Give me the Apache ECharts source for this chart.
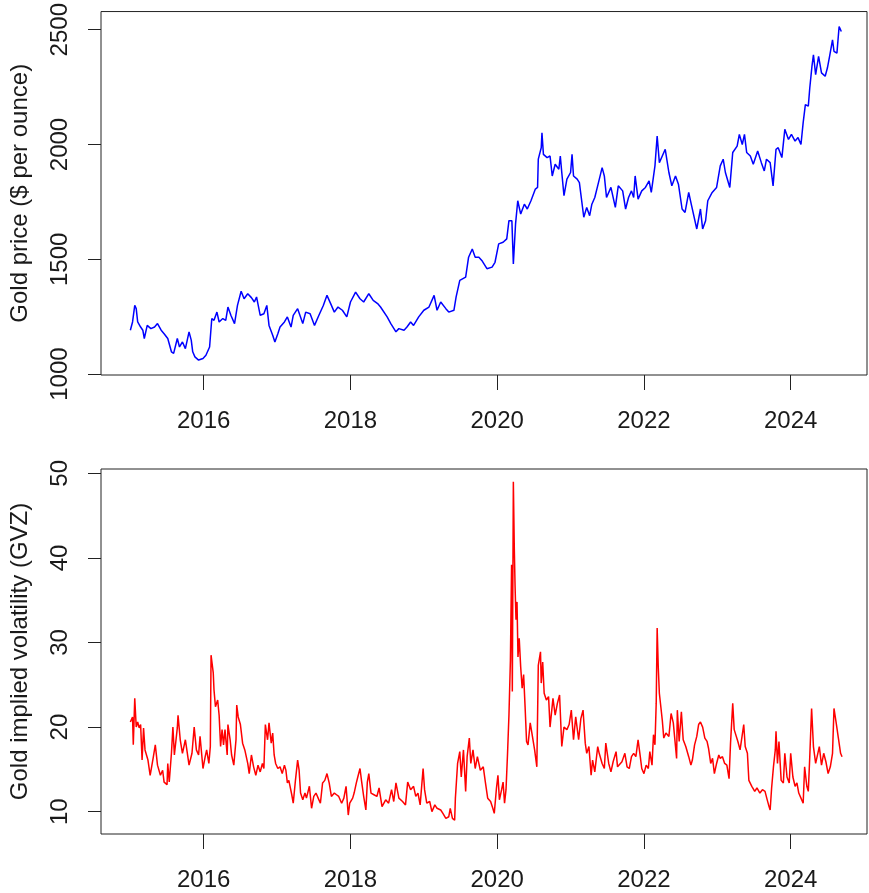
<!DOCTYPE html>
<html><head><meta charset="utf-8">
<script src="https://cdn.jsdelivr.net/npm/echarts@6/dist/echarts.min.js"></script>
<style>html,body{margin:0;padding:0;background:#fff}#c{width:869px;height:893px}</style>
</head><body><div id="c"></div>
<script>
const goldYear = [2015.00,2015.03,2015.06,2015.08,2015.10,2015.14,2015.17,2015.19,2015.23,2015.28,2015.33,2015.37,2015.42,2015.46,2015.51,2015.56,2015.59,2015.64,2015.67,2015.71,2015.75,2015.80,2015.83,2015.85,2015.88,2015.93,2015.99,2016.03,2016.08,2016.11,2016.14,2016.18,2016.21,2016.26,2016.30,2016.33,2016.37,2016.42,2016.46,2016.51,2016.55,2016.60,2016.65,2016.69,2016.72,2016.77,2016.82,2016.86,2016.89,2016.94,2016.97,2017.01,2017.04,2017.10,2017.14,2017.19,2017.22,2017.28,2017.35,2017.39,2017.45,2017.51,2017.57,2017.63,2017.68,2017.73,2017.78,2017.83,2017.89,2017.95,2018.00,2018.07,2018.13,2018.18,2018.25,2018.31,2018.37,2018.41,2018.50,2018.55,2018.62,2018.66,2018.73,2018.77,2018.82,2018.86,2018.93,2019.00,2019.07,2019.14,2019.18,2019.23,2019.30,2019.34,2019.41,2019.44,2019.49,2019.57,2019.61,2019.66,2019.70,2019.75,2019.79,2019.86,2019.93,2019.97,2020.02,2020.08,2020.13,2020.16,2020.20,2020.22,2020.25,2020.28,2020.32,2020.37,2020.41,2020.46,2020.52,2020.55,2020.56,2020.60,2020.61,2020.63,2020.68,2020.72,2020.75,2020.79,2020.84,2020.86,2020.88,2020.91,2020.95,2021.00,2021.02,2021.04,2021.09,2021.12,2021.18,2021.22,2021.26,2021.29,2021.33,2021.38,2021.43,2021.46,2021.49,2021.55,2021.61,2021.65,2021.71,2021.75,2021.79,2021.83,2021.86,2021.88,2021.92,2021.97,2022.02,2022.07,2022.10,2022.15,2022.18,2022.21,2022.25,2022.29,2022.34,2022.38,2022.43,2022.47,2022.52,2022.56,2022.61,2022.65,2022.72,2022.77,2022.80,2022.84,2022.87,2022.93,2022.99,2023.04,2023.08,2023.11,2023.17,2023.21,2023.27,2023.30,2023.34,2023.37,2023.40,2023.45,2023.49,2023.55,2023.60,2023.64,2023.67,2023.72,2023.76,2023.80,2023.83,2023.88,2023.92,2023.97,2024.01,2024.06,2024.10,2024.14,2024.17,2024.20,2024.24,2024.26,2024.29,2024.31,2024.34,2024.38,2024.42,2024.47,2024.50,2024.53,2024.57,2024.59,2024.63,2024.66,2024.69];
const goldPrice = [1191,1227,1299,1285,1227,1205,1191,1155,1212,1198,1205,1220,1191,1176,1155,1097,1090,1155,1118,1140,1111,1184,1148,1097,1075,1061,1068,1082,1118,1242,1234,1270,1227,1242,1234,1292,1256,1220,1299,1361,1328,1350,1333,1314,1336,1256,1263,1299,1212,1169,1140,1176,1205,1227,1249,1205,1256,1285,1220,1270,1263,1212,1256,1299,1343,1307,1270,1292,1278,1249,1314,1357,1328,1314,1350,1321,1307,1292,1249,1220,1184,1198,1191,1205,1227,1212,1249,1278,1292,1343,1278,1314,1285,1270,1278,1336,1408,1422,1509,1545,1509,1509,1495,1459,1466,1487,1567,1574,1589,1668,1668,1480,1654,1755,1697,1740,1719,1755,1806,1813,1936,1986,2051,1957,1943,1950,1863,1914,1892,1950,1878,1777,1849,1878,1957,1863,1849,1834,1683,1726,1690,1740,1769,1834,1899,1863,1769,1813,1726,1820,1798,1719,1769,1798,1769,1863,1762,1798,1813,1842,1791,1907,2037,1921,1950,1979,1878,1820,1863,1827,1719,1704,1791,1733,1632,1719,1632,1668,1755,1791,1813,1907,1936,1878,1813,1965,1993,2044,2000,2044,1965,1950,1914,1972,1921,1885,1936,1921,1820,1979,1986,1943,2066,2022,2044,2015,2030,2000,2095,2174,2167,2246,2341,2391,2304,2384,2312,2297,2333,2384,2456,2406,2398,2514,2492];

const gvzYear = [2015.00,2015.03,2015.04,2015.06,2015.08,2015.10,2015.12,2015.14,2015.16,2015.18,2015.20,2015.24,2015.27,2015.31,2015.34,2015.37,2015.41,2015.44,2015.46,2015.50,2015.51,2015.53,2015.56,2015.58,2015.60,2015.64,2015.65,2015.68,2015.71,2015.75,2015.77,2015.80,2015.84,2015.87,2015.90,2015.93,2015.95,2015.99,2016.02,2016.04,2016.07,2016.09,2016.10,2016.13,2016.14,2016.16,2016.19,2016.21,2016.23,2016.25,2016.27,2016.29,2016.32,2016.33,2016.36,2016.38,2016.41,2016.44,2016.45,2016.47,2016.50,2016.53,2016.56,2016.60,2016.62,2016.65,2016.68,2016.71,2016.74,2016.77,2016.80,2016.82,2016.84,2016.87,2016.89,2016.92,2016.94,2016.96,2016.98,2017.01,2017.04,2017.07,2017.10,2017.12,2017.14,2017.16,2017.20,2017.22,2017.25,2017.28,2017.30,2017.32,2017.35,2017.38,2017.40,2017.44,2017.47,2017.50,2017.53,2017.56,2017.59,2017.62,2017.65,2017.68,2017.71,2017.74,2017.78,2017.81,2017.84,2017.88,2017.91,2017.94,2017.97,2017.99,2018.03,2018.05,2018.08,2018.10,2018.13,2018.15,2018.18,2018.21,2018.23,2018.25,2018.28,2018.32,2018.36,2018.39,2018.43,2018.48,2018.52,2018.56,2018.59,2018.62,2018.66,2018.71,2018.75,2018.78,2018.82,2018.86,2018.89,2018.92,2018.95,2018.99,2019.01,2019.04,2019.08,2019.11,2019.15,2019.18,2019.23,2019.26,2019.30,2019.34,2019.36,2019.39,2019.42,2019.43,2019.46,2019.49,2019.51,2019.54,2019.57,2019.59,2019.62,2019.64,2019.67,2019.70,2019.73,2019.77,2019.81,2019.84,2019.87,2019.91,2019.94,2019.96,2019.99,2020.01,2020.03,2020.06,2020.08,2020.10,2020.12,2020.14,2020.16,2020.18,2020.196,2020.206,2020.22,2020.233,2020.243,2020.256,2020.27,2020.283,2020.30,2020.32,2020.34,2020.36,2020.38,2020.40,2020.42,2020.45,2020.48,2020.51,2020.54,2020.56,2020.59,2020.60,2020.62,2020.64,2020.67,2020.70,2020.72,2020.76,2020.79,2020.82,2020.85,2020.88,2020.91,2020.95,2020.98,2021.01,2021.04,2021.07,2021.11,2021.14,2021.17,2021.20,2021.22,2021.25,2021.28,2021.30,2021.33,2021.37,2021.39,2021.43,2021.46,2021.48,2021.52,2021.55,2021.58,2021.62,2021.64,2021.70,2021.74,2021.77,2021.80,2021.83,2021.86,2021.89,2021.92,2021.95,2021.97,2022.00,2022.03,2022.06,2022.08,2022.11,2022.13,2022.15,2022.167,2022.18,2022.195,2022.21,2022.23,2022.25,2022.27,2022.30,2022.34,2022.37,2022.40,2022.43,2022.445,2022.455,2022.48,2022.51,2022.535,2022.57,2022.61,2022.64,2022.66,2022.69,2022.72,2022.745,2022.77,2022.80,2022.83,2022.86,2022.88,2022.91,2022.935,2022.96,2022.99,2023.02,2023.04,2023.07,2023.10,2023.13,2023.16,2023.18,2023.21,2023.23,2023.25,2023.28,2023.31,2023.33,2023.36,2023.38,2023.41,2023.43,2023.47,2023.51,2023.54,2023.58,2023.615,2023.65,2023.68,2023.705,2023.72,2023.74,2023.765,2023.79,2023.80,2023.82,2023.84,2023.87,2023.90,2023.92,2023.95,2023.98,2024.00,2024.03,2024.06,2024.085,2024.11,2024.14,2024.17,2024.19,2024.22,2024.24,2024.26,2024.285,2024.31,2024.34,2024.37,2024.39,2024.42,2024.45,2024.48,2024.51,2024.54,2024.57,2024.59,2024.62,2024.65,2024.68,2024.70];
const gvzValue = [20.6,21.2,17.9,23.4,20.0,20.6,19.9,20.3,16.1,19.9,17.3,16.1,14.3,16.3,17.9,15.5,14.3,14.9,13.5,13.2,15.7,13.5,16.9,20.0,16.7,19.9,21.4,18.5,16.9,18.5,17.3,15.5,16.9,20.0,17.3,16.7,18.9,15.1,16.5,17.3,15.7,17.7,28.5,26.4,24.4,22.4,23.2,21.4,17.7,19.7,17.9,19.7,16.7,20.3,18.5,16.7,15.5,18.5,22.6,21.2,20.3,18.1,17.3,15.7,14.5,16.7,15.3,14.3,15.5,14.7,15.7,15.1,20.3,18.5,20.5,18.1,19.3,16.7,15.7,15.1,15.3,14.5,15.5,14.9,13.4,13.7,12.0,11.0,13.7,16.1,14.9,12.2,11.4,12.2,11.6,13.0,10.4,11.8,12.2,11.6,11.0,13.4,13.7,14.5,13.4,11.8,12.2,12.0,11.8,11.0,11.6,13.0,9.6,11.0,11.6,12.2,13.4,14.1,15.1,13.7,11.8,10.2,13.5,14.5,12.2,12.0,11.8,12.8,10.6,11.4,11.0,12.6,11.2,13.4,11.6,11.2,10.8,13.5,12.6,13.0,11.8,12.2,10.8,15.1,12.6,11.0,11.2,10.0,10.8,10.4,10.2,9.8,9.2,9.4,10.4,9.2,9.0,11.6,15.7,17.1,14.1,17.3,12.4,16.5,18.7,15.7,17.3,15.1,16.5,14.9,15.3,13.4,11.6,11.2,10.4,9.8,12.8,14.3,11.4,12.6,13.5,11.0,12.6,16.7,21.4,27.9,39.2,24.2,49.0,41.1,36.8,32.7,34.8,28.3,30.5,27.1,24.6,26.2,22.4,18.3,17.9,20.5,18.9,17.3,15.3,27.3,28.9,25.2,27.7,24.0,23.2,23.6,20.0,23.4,21.4,22.8,23.8,17.7,20.0,19.7,20.3,22.0,18.5,21.2,18.5,21.0,22.0,18.1,16.9,17.7,14.3,16.1,14.7,17.7,16.9,15.7,15.1,18.1,15.7,14.7,15.9,17.1,15.3,15.9,16.9,15.3,15.1,16.5,16.9,16.5,18.5,16.5,15.1,14.5,15.5,15.1,17.1,15.5,19.1,17.9,22.8,31.7,27.1,24.0,22.4,20.8,18.7,19.3,18.9,21.6,20.5,17.7,16.3,22.0,18.3,21.8,18.5,17.7,16.5,15.5,16.1,17.9,18.9,20.3,20.6,20.0,18.7,18.3,17.5,15.7,16.3,14.5,15.7,16.7,16.3,16.5,15.7,15.5,13.9,18.1,22.8,19.7,19.9,18.3,17.3,18.5,20.3,17.7,16.9,13.7,13.0,12.4,12.8,12.2,12.6,12.4,11.4,10.6,10.2,12.8,15.3,17.3,19.5,15.7,18.3,13.7,13.4,16.9,14.1,13.4,16.9,14.1,13.0,13.4,12.2,11.6,11.0,15.3,13.0,12.4,16.5,22.2,17.7,15.7,16.9,17.7,15.5,16.9,15.9,14.5,15.3,16.9,22.2,20.5,18.7,16.9,16.5];

const yearTicks = [2016, 2018, 2020, 2022, 2024];
const goldTicks = [1000, 1500, 2000, 2500];
const gvzTicks = [10, 20, 30, 40, 50];

const FONT = '"Liberation Sans", Arial, sans-serif';
const TXT = '#1a1a1a';

function xAxisDef(gi) {
  return {
    type: 'value', gridIndex: gi, min: 2014.60, max: 2025.04,
    axisLine: { show: false },
    splitLine: { show: false },
    axisTick: { show: true, inside: false, length: 15, customValues: yearTicks, lineStyle: { color: '#222', width: 1 } },
    axisLabel: { customValues: yearTicks, formatter: v => String(v), fontSize: 24, fontFamily: FONT, color: TXT, margin: 34 }
  };
}
function yAxisDef(gi, min, max, ticks, name) {
  return {
    type: 'value', gridIndex: gi, min: min, max: max,
    name: name, nameLocation: 'middle', nameRotate: 90, nameGap: 69,
    nameTextStyle: { fontSize: 24, fontFamily: FONT, color: TXT },
    axisLine: { show: false },
    splitLine: { show: false },
    axisTick: { show: true, length: 13, customValues: ticks, lineStyle: { color: '#222', width: 1 } },
    axisLabel: { customValues: ticks, rotate: 90, formatter: v => String(v), fontSize: 24, fontFamily: FONT, color: TXT, margin: 29 }
  };
}

const chart = echarts.init(document.getElementById('c'), null, { renderer: 'canvas' });
chart.setOption({
  animation: false,
  backgroundColor: '#ffffff',
  grid: [
    { left: 100, top: 10, width: 767, height: 365, show: true, borderColor: '#222', borderWidth: 1, backgroundColor: 'transparent' },
    { left: 100, top: 469, width: 767, height: 365, show: true, borderColor: '#222', borderWidth: 1, backgroundColor: 'transparent' }
  ],
  xAxis: [xAxisDef(0), xAxisDef(1)],
  yAxis: [
    yAxisDef(0, 996, 2579, goldTicks, 'Gold price ($ per ounce)'),
    yAxisDef(1, 7.36, 50.51, gvzTicks, 'Gold implied volatility (GVZ)')
  ],
  series: [
    { type: 'line', xAxisIndex: 0, yAxisIndex: 0, showSymbol: false, symbol: 'none',
      lineStyle: { color: '#0000ff', width: 1.5 }, data: goldYear.map((y, i) => [y, goldPrice[i]]) },
    { type: 'line', xAxisIndex: 1, yAxisIndex: 1, showSymbol: false, symbol: 'none',
      lineStyle: { color: '#ff0000', width: 1.5 }, data: gvzYear.map((y, i) => [y, gvzValue[i]]) }
  ]
});
</script></body></html>
